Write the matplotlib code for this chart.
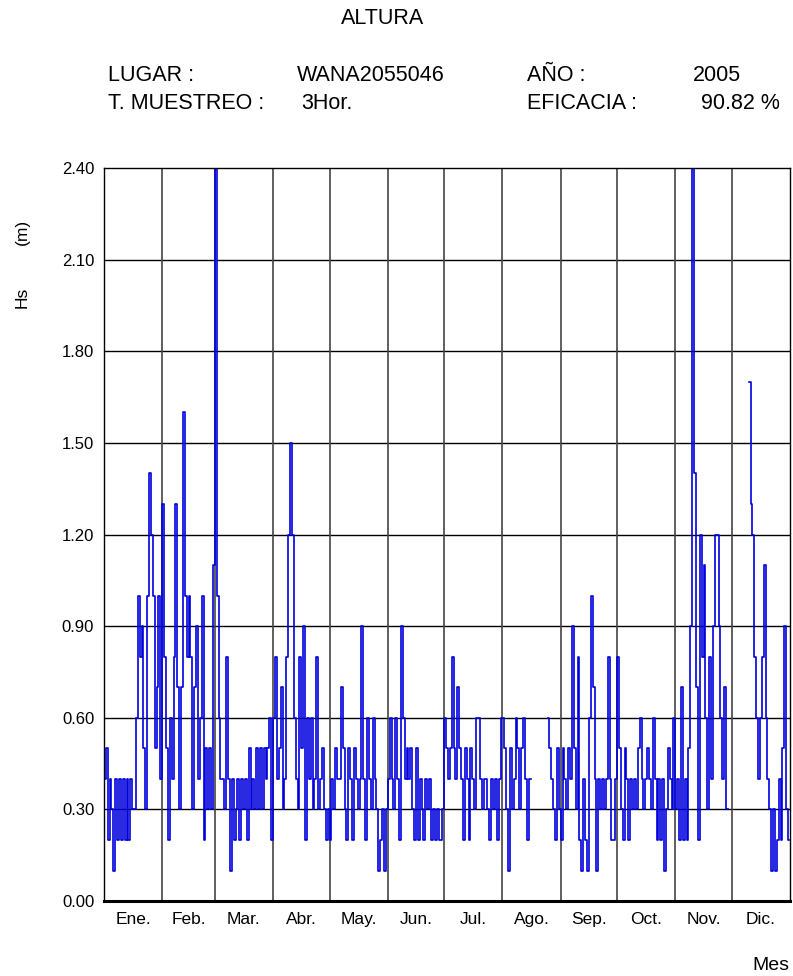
import numpy as np
import matplotlib
matplotlib.use("Agg")
import matplotlib.pyplot as plt

nan = np.nan

# Hs (m), one value per day
hs_ene = [0.4, 0.5, 0.2, 0.4, 0.3, 0.1, 0.4, 0.2, 0.4, 0.2, 0.4, 0.2, 0.4, 0.2, 0.4, 0.3,
          0.3, 0.6, 1.0, 0.8, 0.9, 0.5, 0.3, 1.0, 1.4, 1.2, 1.0, 0.5, 0.7, 1.0, 0.4]
hs_feb = [1.3, 0.8, 0.5, 0.2, 0.6, 0.4, 0.8, 1.3, 0.7, 0.3, 0.7, 1.6, 1.0, 0.8, 1.0, 0.8,
          0.3, 0.7, 0.9, 0.4, 0.6, 1.0, 0.2, 0.5, 0.3, 0.5, 0.3, 1.1]
hs_mar = [2.4, 1.0, 0.6, 0.4, 0.4, 0.3, 0.8, 0.4, 0.1, 0.4, 0.2, 0.3, 0.4, 0.2, 0.4, 0.3,
          0.4, 0.2, 0.5, 0.3, 0.4, 0.3, 0.5, 0.3, 0.5, 0.3, 0.5, 0.4, 0.5, 0.6, 0.2]
hs_abr = [0.6, 0.8, 0.4, 0.5, 0.7, 0.3, 0.4, 0.8, 1.2, 1.5, 1.2, 0.6, 0.4, 0.3, 0.8, 0.5,
          0.9, 0.2, 0.6, 0.4, 0.6, 0.3, 0.4, 0.8, 0.3, 0.4, 0.5, 0.3, 0.2, 0.3]
hs_may = [0.2, 0.4, 0.3, 0.5, 0.4, 0.4, 0.7, 0.5, 0.3, 0.2, 0.5, 0.4, 0.2, 0.5, 0.4, 0.3,
          0.4, 0.9, 0.4, 0.2, 0.6, 0.4, 0.3, 0.6, 0.4, 0.3, 0.1, 0.2, 0.3, 0.1, 0.3]
hs_jun = [0.4, 0.6, 0.4, 0.3, 0.6, 0.4, 0.2, 0.9, 0.6, 0.4, 0.5, 0.4, 0.5, 0.3, 0.2, 0.5,
          0.2, 0.4, 0.3, 0.2, 0.4, 0.3, 0.4, 0.2, 0.3, 0.2, 0.3, 0.2, 0.2, 0.3]
hs_jul = [0.6, 0.5, 0.4, 0.5, 0.8, 0.5, 0.4, 0.7, 0.5, 0.4, 0.2, 0.5, 0.4, 0.2, 0.5, 0.4,
          0.3, 0.6, 0.6, 0.4, 0.3, 0.4, 0.4, 0.3, 0.2, 0.4, 0.3, 0.4, 0.2, 0.4, 0.6]
hs_ago = [0.6, 0.5, 0.3, 0.1, 0.5, 0.3, 0.4, 0.6, 0.5, 0.3, 0.5, 0.6, 0.4, 0.2, 0.4,
          nan, nan, nan, nan, nan, nan, nan, nan, nan,
          0.6, 0.5, 0.4, 0.3, 0.2, 0.5, 0.3]
hs_sep = [0.2, 0.5, 0.4, 0.3, 0.5, 0.4, 0.9, 0.5, 0.3, 0.8, 0.2, 0.1, 0.4, 0.2, 0.1, 0.6,
          1.0, 0.7, 0.4, 0.1, 0.4, 0.3, 0.4, 0.3, 0.4, 0.8, 0.4, 0.2, 0.2, 0.4]
hs_oct = [0.8, 0.5, 0.3, 0.2, 0.5, 0.4, 0.2, 0.4, 0.3, 0.4, 0.3, 0.5, 0.6, 0.4, 0.3, 0.4,
          0.5, 0.4, 0.3, 0.6, 0.4, 0.2, 0.4, 0.2, 0.4, 0.1, 0.3, 0.5, 0.4, 0.3, 0.6]
hs_nov = [0.3, 0.4, 0.2, 0.7, 0.2, 0.4, 0.2, 0.5, 0.9, 2.4, 1.4, 0.7, 0.2, 1.2, 0.8, 1.1,
          0.6, 0.3, 0.8, 0.4, 0.9, 1.2, 1.2, 0.9, 0.6, 0.4, 0.7, 0.3, nan, nan]
hs_dic = [nan, nan, nan, nan, nan, nan, nan, nan, nan,
          1.7, 1.3, 1.2, 0.8, 0.6, 0.4, 0.6, 0.8, 1.1, 0.6, 0.4, 0.3, 0.1, 0.3, 0.1,
          0.2, 0.4, 0.2, 0.5, 0.9, 0.3, 0.2]

meses = ["Ene.", "Feb.", "Mar.", "Abr.", "May.", "Jun.",
         "Jul.", "Ago.", "Sep.", "Oct.", "Nov.", "Dic."]
todos = [hs_ene, hs_feb, hs_mar, hs_abr, hs_may, hs_jun,
         hs_jul, hs_ago, hs_sep, hs_oct, hs_nov, hs_dic]
y_ticks = [0.0, 0.3, 0.6, 0.9, 1.2, 1.5, 1.8, 2.1, 2.4]

hs = np.array(sum(todos, []), dtype=float)
dias = np.arange(len(hs)) + 0.5
largo = [len(m) for m in todos]
inicio = np.concatenate([[0], np.cumsum(largo)])

plt.rcParams['font.family'] = ['Liberation Sans', 'DejaVu Sans']

fig = plt.figure(figsize=(7.93, 9.76), dpi=100)
ax = fig.add_axes([0.1311, 0.0768, 0.8651, 0.7510])

ax.plot(dias, hs, drawstyle='steps-mid', color='#0000dd', lw=1.2)

ax.set_xlim(0, 365)
ax.set_ylim(0, 2.4)
ax.set_yticks(y_ticks)
ax.set_yticklabels(["%.2f" % v for v in y_ticks], fontsize=12)
ax.set_xticks([])
for v in y_ticks[1:-1]:
    ax.axhline(v, color='black', lw=1.0, zorder=1)
for d in inicio[1:-1]:
    ax.axvline(d, color='#444444', lw=1.2, zorder=1)
for i, m in enumerate(meses):
    ax.text((inicio[i] + inicio[i + 1]) / 2, -0.062, m, ha='center', va='center',
            fontsize=12.5)
ax.tick_params(axis='y', length=0, pad=7)
for s in ['left', 'right', 'top']:
    ax.spines[s].set_linewidth(1.0)
ax.spines['bottom'].set_linewidth(2.2)

# cabecera
fs = 15.5
fig.text(0.483, 0.981, "ALTURA", ha='center', va='center', fontsize=fs)
fig.text(0.136, 0.923, "LUGAR :", fontsize=fs, va='center')
fig.text(0.375, 0.923, "WANA2055046", fontsize=fs, va='center')
fig.text(0.665, 0.923, "AÑO :", fontsize=fs, va='center')
fig.text(0.874, 0.923, "2005", fontsize=fs, va='center')
fig.text(0.136, 0.894, "T. MUESTREO :", fontsize=fs, va='center')
fig.text(0.380, 0.894, "3Hor.", fontsize=fs, va='center')
fig.text(0.665, 0.894, "EFICACIA :", fontsize=fs, va='center')
fig.text(0.884, 0.894, "90.82 %", fontsize=fs, va='center')

fig.text(0.028, 0.695, "Hs", rotation=90, ha='center', va='center', fontsize=12.5)
fig.text(0.028, 0.762, "(m)", rotation=90, ha='center', va='center', fontsize=12.5)
fig.text(0.972, 0.011, "Mes", ha='center', va='center', fontsize=14)

fig.savefig("out.png", dpi=100)
